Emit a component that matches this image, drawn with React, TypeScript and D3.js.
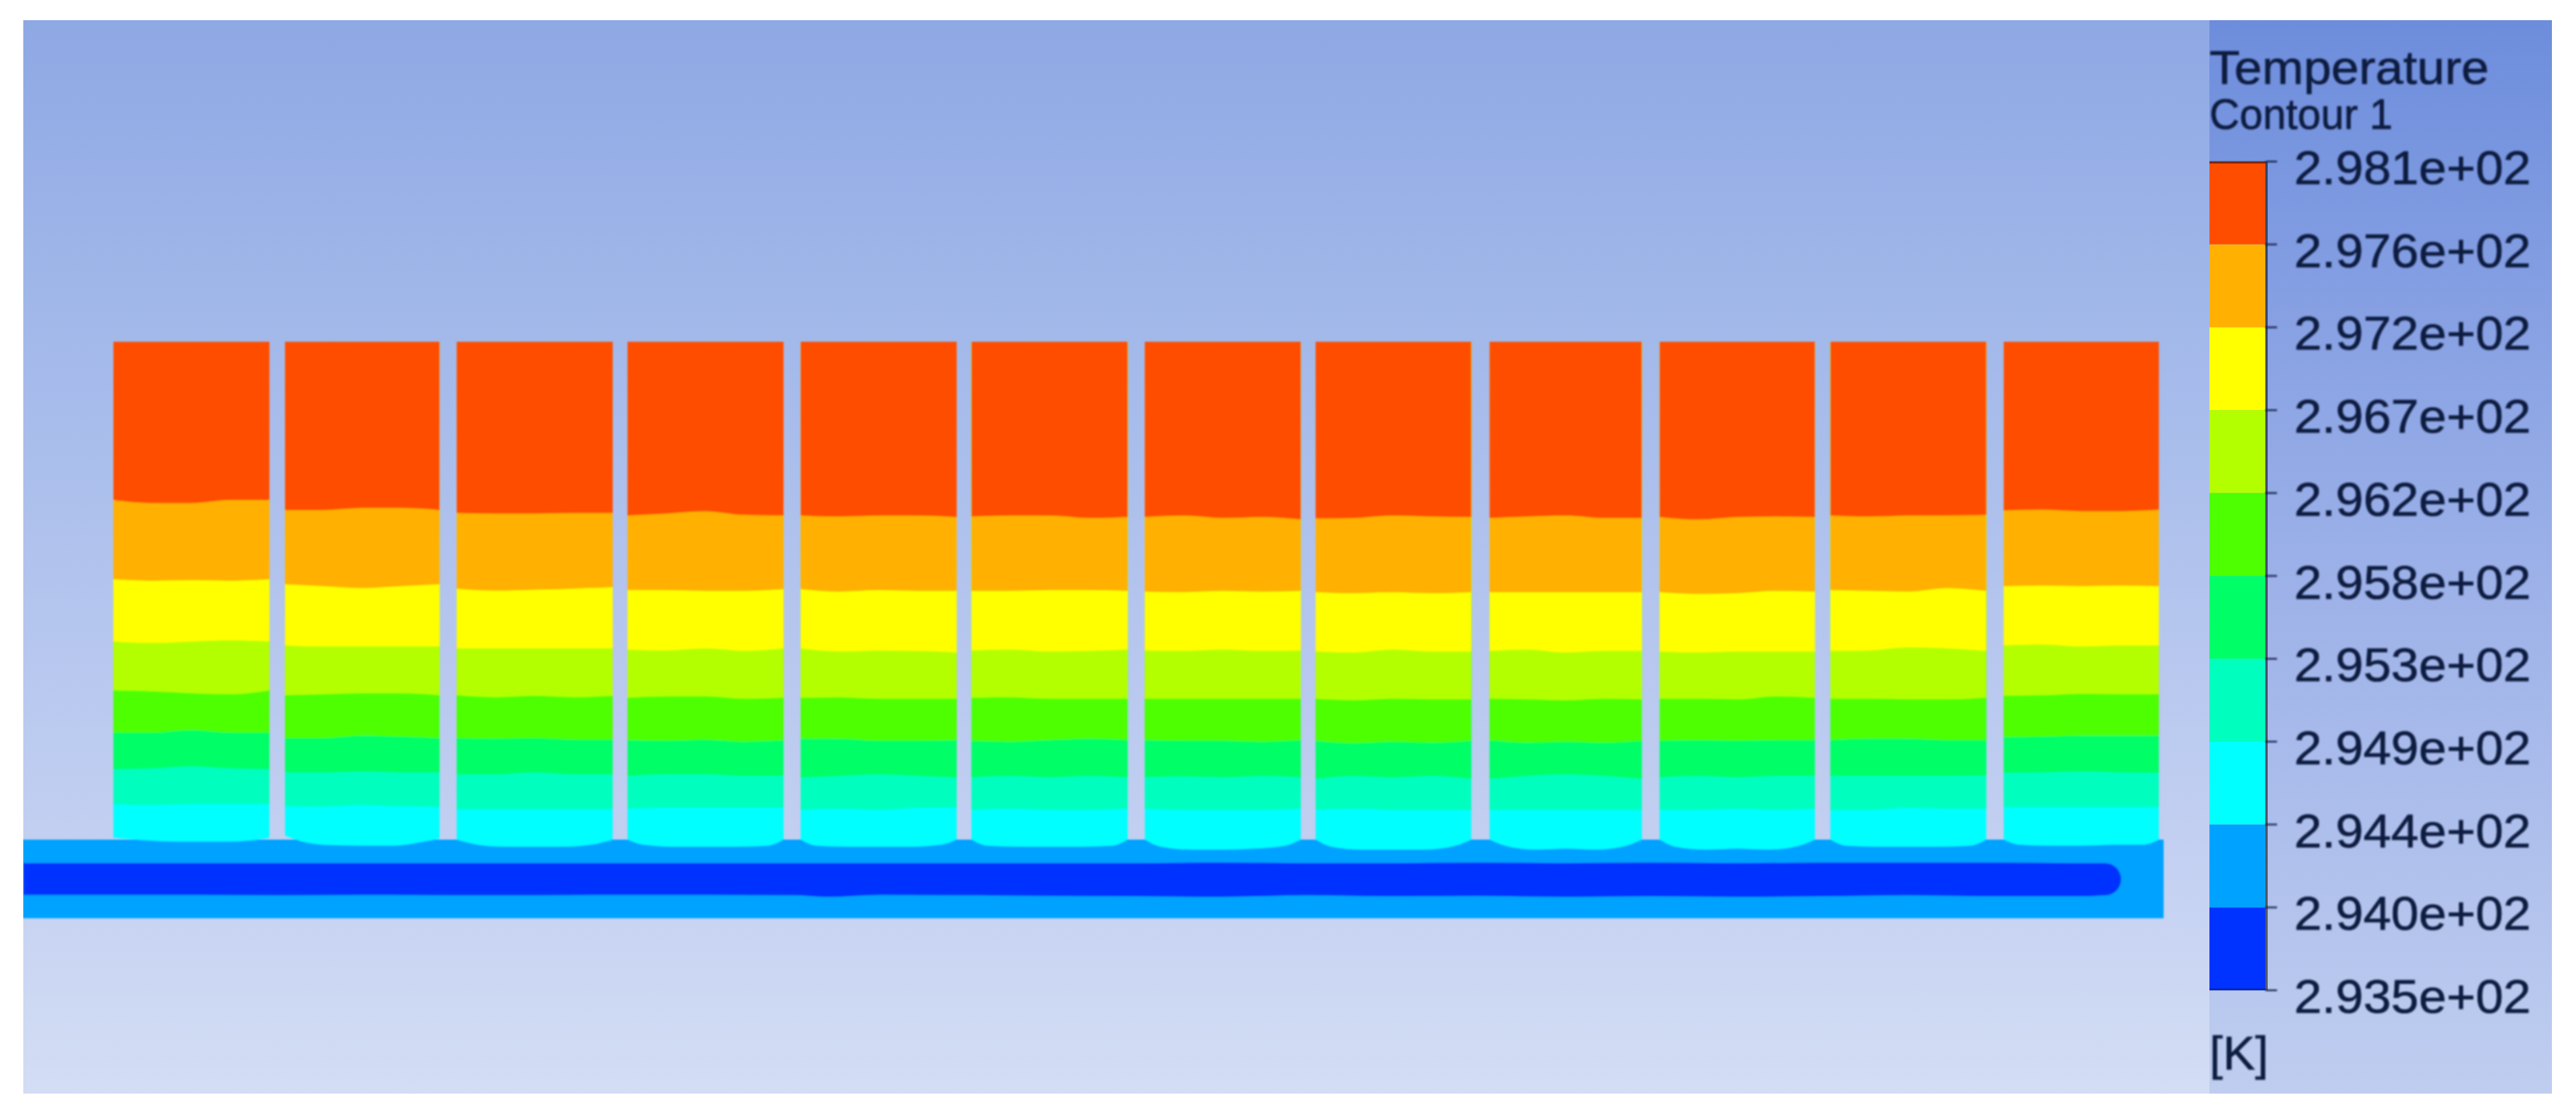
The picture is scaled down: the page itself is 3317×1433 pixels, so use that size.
import React from "react";
import * as d3 from "d3";

// Fin extents along the plate, percent of plate length
const finStart = [4.21, 12.23, 20.25, 28.23, 36.32, 44.3, 52.4, 60.38, 68.51, 76.45, 84.43, 92.53];
const finEnd = [11.5, 19.45, 27.54, 35.52, 43.61, 51.6, 59.69, 67.65, 75.62, 83.71, 91.71, 99.78];

// Isotherm depth below the fin tip (percent of fin height), 5 samples across each of the 12 fins
const iso2976 = [
  [31.8, 32.4, 32.4, 31.8, 31.8], [33.8, 33.8, 33.4, 33.4, 33.8], [34.4, 34.5, 34.5, 34.4, 34.4],
  [34.9, 34.5, 34.05, 34.8, 34.9], [34.9, 35.1, 34.9, 34.9, 35.2], [35.1, 34.9, 34.9, 35.4, 35.2],
  [35.2, 34.9, 35.4, 35.2, 35.7], [35.5, 35.4, 34.9, 35.1, 35.2], [35.4, 35.1, 34.9, 35.4, 35.4],
  [35.2, 35.7, 35.2, 35.1, 35.2], [34.9, 35.1, 34.9, 34.9, 34.8], [33.9, 33.75, 34.05, 34.05, 33.75],
];
const iso2972 = [
  [47.7, 48.0, 47.9, 48.0, 47.7], [48.7, 49.1, 49.5, 49.1, 48.7], [49.6, 50.0, 49.8, 49.6, 49.3],
  [49.9, 49.9, 50.05, 50.05, 49.7], [49.7, 50.2, 49.9, 50.05, 50.05], [50.05, 50.05, 49.9, 49.9, 50.05],
  [50.2, 50.3, 50.05, 50.2, 50.05], [50.3, 50.5, 50.3, 50.5, 50.3], [50.3, 50.3, 50.3, 50.3, 50.3],
  [50.3, 50.65, 50.5, 50.05, 50.2], [49.9, 50.05, 50.2, 49.5, 50.05], [49.1, 49.0, 49.1, 49.0, 49.1],
];
const iso2967 = [
  [60.2, 60.5, 60.2, 60.0, 60.2], [61.0, 61.2, 61.2, 61.2, 61.2], [61.6, 61.6, 61.6, 61.6, 61.6],
  [61.8, 62.0, 61.6, 62.1, 61.6], [61.6, 62.2, 62.0, 62.1, 62.4], [62.0, 61.8, 62.2, 62.1, 61.8],
  [62.0, 62.1, 61.8, 62.1, 62.0], [62.2, 62.4, 61.8, 62.2, 62.2], [62.1, 61.8, 62.4, 62.1, 62.1],
  [62.2, 62.4, 62.2, 62.2, 62.2], [62.1, 62.0, 61.4, 61.6, 62.1], [61.0, 60.8, 61.2, 61.0, 61.0],
];
const iso2962 = [
  [70.0, 70.2, 70.6, 70.8, 70.0], [71.0, 70.8, 70.6, 70.6, 71.0], [71.0, 71.4, 71.1, 71.4, 71.1],
  [71.5, 71.2, 71.2, 71.7, 71.5], [71.5, 71.4, 71.7, 71.7, 71.7], [71.5, 71.4, 71.7, 71.7, 71.7],
  [71.7, 71.7, 71.7, 71.7, 71.7], [71.7, 72.0, 71.7, 71.8, 71.8], [71.7, 71.8, 72.0, 71.7, 71.8],
  [71.7, 71.7, 71.8, 71.2, 71.5], [71.7, 71.7, 71.8, 71.8, 71.5], [71.1, 71.0, 70.7, 70.8, 70.8],
];
const iso2958 = [
  [78.5, 78.5, 78.0, 78.5, 78.5], [79.6, 79.6, 79.1, 79.3, 79.6], [79.6, 79.7, 79.6, 79.9, 79.9],
  [80.0, 80.1, 79.9, 80.3, 80.0], [79.7, 79.7, 80.1, 80.1, 80.0], [80.1, 80.3, 80.0, 79.7, 80.0],
  [80.0, 80.1, 80.1, 80.3, 80.0], [80.1, 80.6, 80.3, 80.5, 80.1], [80.0, 80.5, 80.3, 80.5, 80.1],
  [80.1, 80.0, 80.1, 80.0, 80.0], [80.0, 79.7, 79.7, 80.0, 80.0], [79.4, 79.3, 79.1, 79.1, 79.1],
];
const iso2953 = [
  [85.9, 85.7, 85.3, 85.7, 85.9], [86.5, 86.5, 86.3, 86.5, 86.5], [86.9, 86.9, 86.5, 86.9, 86.9],
  [87.2, 86.9, 86.9, 87.2, 87.2], [87.5, 87.2, 86.9, 87.2, 87.5], [87.5, 87.2, 87.5, 87.2, 87.5],
  [87.5, 87.3, 87.5, 87.2, 87.5], [87.8, 87.2, 87.5, 87.2, 87.8], [87.8, 87.2, 86.9, 87.2, 87.8],
  [87.5, 87.2, 87.5, 87.2, 87.2], [87.2, 87.2, 87.2, 87.2, 87.1], [86.6, 86.5, 86.3, 86.5, 86.6],
];
const iso2949 = [
  [92.9, 93.1, 92.9, 92.9, 92.9], [93.3, 93.4, 93.1, 93.3, 93.4], [93.9, 93.9, 93.9, 93.9, 93.9],
  [93.8, 93.6, 93.6, 93.6, 93.6], [94.05, 93.8, 94.05, 93.6, 93.6], [94.05, 93.8, 94.05, 94.05, 93.8],
  [93.8, 94.05, 94.05, 94.05, 93.8], [94.05, 93.8, 94.05, 94.05, 94.05], [94.05, 94.05, 94.05, 94.05, 94.05],
  [94.05, 94.05, 93.8, 94.05, 93.8], [94.05, 94.05, 93.6, 93.8, 93.8], [93.5, 93.5, 93.5, 93.5, 93.5],
];
// Root isotherm: 7 samples across each fin, dips into the plate
const rootStations = [0, 0.1, 0.3, 0.5, 0.7, 0.9, 1];
const iso2944 = [
  [99.6, 99.9, 100.3, 100.4, 100.4, 100.1, 99.6], [99.2, 100.3, 101.1, 101.2, 101.2, 100.4, 99.8],
  [100.0, 100.8, 101.4, 101.4, 101.4, 100.8, 100.0], [100.0, 101.0, 101.4, 101.4, 101.4, 101.2, 100.0],
  [100.0, 101.2, 101.4, 101.4, 101.4, 101.0, 100.0], [100.0, 101.2, 101.4, 101.4, 101.4, 101.2, 100.0],
  [100.0, 101.4, 102.0, 102.0, 101.8, 101.2, 100.0], [100.0, 101.4, 102.0, 102.0, 102.0, 101.2, 100.0],
  [100.0, 101.2, 102.0, 101.8, 102.0, 101.2, 100.0], [100.0, 101.4, 102.0, 101.8, 102.0, 101.2, 100.0],
  [100.0, 101.2, 101.4, 101.4, 101.4, 101.2, 100.0], [100.0, 101.0, 101.2, 101.2, 101.0, 101.0, 100.0],
];

const bandColors = ["#ff4d00", "#ffb000", "#ffff00", "#b3ff00", "#4dff00", "#00ff66", "#00ffbf", "#00ffff", "#00a2ff", "#0033ff"];
const tickLabels = ["2.981e+02", "2.976e+02", "2.972e+02", "2.967e+02", "2.962e+02", "2.958e+02", "2.953e+02", "2.949e+02", "2.944e+02", "2.940e+02", "2.935e+02"];
const plateDepth = [100, 115.8];
const tubeStations = [0, 4, 8, 12, 16, 20, 24, 28, 32, 36, 37.6, 40, 44, 48, 52, 56, 60, 64, 68, 72, 76, 80, 84, 88, 92, 96, 97.26];
const tubeTop = [104.7, 104.7, 104.7, 104.7, 104.7, 104.7, 104.7, 104.7, 104.7, 104.7, 104.7, 104.7, 104.7, 104.7, 104.7, 104.6, 104.7, 104.7, 104.6, 104.7, 104.6, 104.7, 104.6, 104.6, 104.6, 104.7, 104.7];
const tubeBottom = [111.1, 111.1, 111.1, 111.2, 111.1, 111.2, 111.2, 111.1, 111.1, 111.2, 111.5, 111.1, 111.2, 111.3, 111.4, 111.5, 111.2, 111.4, 111.3, 111.5, 111.4, 111.5, 111.4, 111.2, 111.4, 111.4, 111.2];
const titleText = "Temperature";
const subtitleText = "Contour 1";
const unitText = "[K]";

const W = 3317, H = 1433;
const px0 = 30, px1 = 2786, plotRight = 2845, panelRight = 3286, top = 26, bottom = 1408;
const x = d3.scaleLinear().domain([0, 100]).range([px0, px1]);
const y = d3.scaleLinear().domain([0, 100]).range([440, 1081]);
const legendY = d3.scalePoint<string>().domain(tickLabels).range([208, 1275]);
const font = "'Liberation Sans', Arial, sans-serif";
const ink = "#101d40";
const sampleStations = [0, 0.25, 0.5, 0.75, 1];

function finArea(i: number, values: number[], stations: number[]) {
  const fx = d3.scaleLinear().domain([0, 1]).range([x(finStart[i]), x(finEnd[i])]);
  const area = d3
    .area<number>()
    .x((_, k) => fx(stations[k]))
    .y0(y(0))
    .y1((v) => y(v))
    .curve(d3.curveMonotoneX);
  return area(values) as string;
}

export default function App() {
  const isotherms = [iso2976, iso2972, iso2967, iso2962, iso2958, iso2953, iso2949, iso2944];
  const tubePath = d3
    .area<number>()
    .x((p) => x(p))
    .y0((_, k) => y(tubeTop[k]))
    .y1((_, k) => y(tubeBottom[k]))
    .curve(d3.curveMonotoneX)(tubeStations) as string;
  const last = tubeStations.length - 1;
  const capR = (y(tubeBottom[last]) - y(tubeTop[last])) / 2;
  const capY = (y(tubeBottom[last]) + y(tubeTop[last])) / 2;
  const barX = plotRight, barW = 72;
  const textProps = { fontFamily: font, fill: ink, stroke: ink, strokeWidth: 0.7, lengthAdjust: "spacingAndGlyphs" };
  return (
    <svg width={W} height={H} viewBox={`0 0 ${W} ${H}`} style={{ position: "absolute", left: 0, top: 0, display: "block", background: "#fff" }}>
      <defs>
        <linearGradient id="bgMain" x1="0" y1="0" x2="0" y2="1">
          <stop offset="0" stopColor="#8ea8e4" />
          <stop offset="0.3" stopColor="#a3b9ea" />
          <stop offset="0.76" stopColor="#c2cff1" />
          <stop offset="1" stopColor="#d3ddf4" />
        </linearGradient>
        <linearGradient id="bgLegend" x1="0" y1="0" x2="0" y2="1">
          <stop offset="0" stopColor="#6d8ddc" />
          <stop offset="0.5" stopColor="#9bb0e8" />
          <stop offset="1" stopColor="#bfcdef" />
        </linearGradient>
        <filter id="soft" x="-2%" y="-2%" width="104%" height="104%">
          <feGaussianBlur stdDeviation="1.2" />
        </filter>
        <filter id="softText" x="-5%" y="-5%" width="110%" height="110%">
          <feGaussianBlur stdDeviation="0.9" />
        </filter>
      </defs>
      <rect x={px0} y={top} width={plotRight - px0} height={bottom - top} fill="url(#bgMain)" />
      <rect x={plotRight} y={top} width={panelRight - plotRight} height={bottom - top} fill="url(#bgLegend)" />

      <g filter="url(#soft)">
        <rect x={px0 - 10} y={y(plateDepth[0])} width={px1 - px0 + 10} height={y(plateDepth[1]) - y(plateDepth[0])} fill={bandColors[8]} />
        <path d={tubePath} fill={bandColors[9]} />
        <circle cx={x(tubeStations[last])} cy={capY} r={capR} fill={bandColors[9]} />
        {finStart.map((_, i) => (
          <g key={i}>
            {isotherms
              .map((iso, b) => ({ iso, b }))
              .reverse()
              .map(({ iso, b }) => (
                <path key={b} d={finArea(i, iso[i], b === 7 ? rootStations : sampleStations)} fill={bandColors[b]} />
              ))}
          </g>
        ))}
      </g>
      {/* trims the plate's blur at the image's left edge */}
      <rect x={0} y={top} width={px0} height={bottom - top} fill="#fff" />

      {bandColors.map((c, i) => {
        const y0 = legendY(tickLabels[i]) as number;
        const y1 = legendY(tickLabels[i + 1]) as number;
        return <rect key={c} x={barX} y={y0} width={barW} height={y1 - y0} fill={c} />;
      })}
      <line x1={barX + barW + 1.5} x2={barX + barW + 1.5} y1={208} y2={1275} stroke="#000" strokeOpacity={0.55} strokeWidth={3} />
      <line x1={barX} x2={barX + barW} y1={209} y2={209} stroke="#000" strokeOpacity={0.5} strokeWidth={3} />
      <line x1={barX} x2={barX + barW} y1={1274} y2={1274} stroke="#000" strokeOpacity={0.25} strokeWidth={3} />
      <g filter="url(#softText)">
        {tickLabels.map((t) => {
          const ty = legendY(t) as number;
          return (
            <g key={t}>
              <line x1={barX + barW} x2={2932} y1={ty} y2={ty} stroke={ink} strokeWidth={2} />
              <text x={2954} y={ty + 29} fontSize={61} textLength={305} {...textProps}>
                {t}
              </text>
            </g>
          );
        })}
        <text x={2845} y={108} fontSize={62} textLength={360} {...textProps}>{titleText}</text>
        <text x={2845} y={166} fontSize={55} textLength={236} {...textProps}>{subtitleText}</text>
        <text x={2845} y={1377} fontSize={62} textLength={76} {...textProps}>{unitText}</text>
      </g>
    </svg>
  );
}
